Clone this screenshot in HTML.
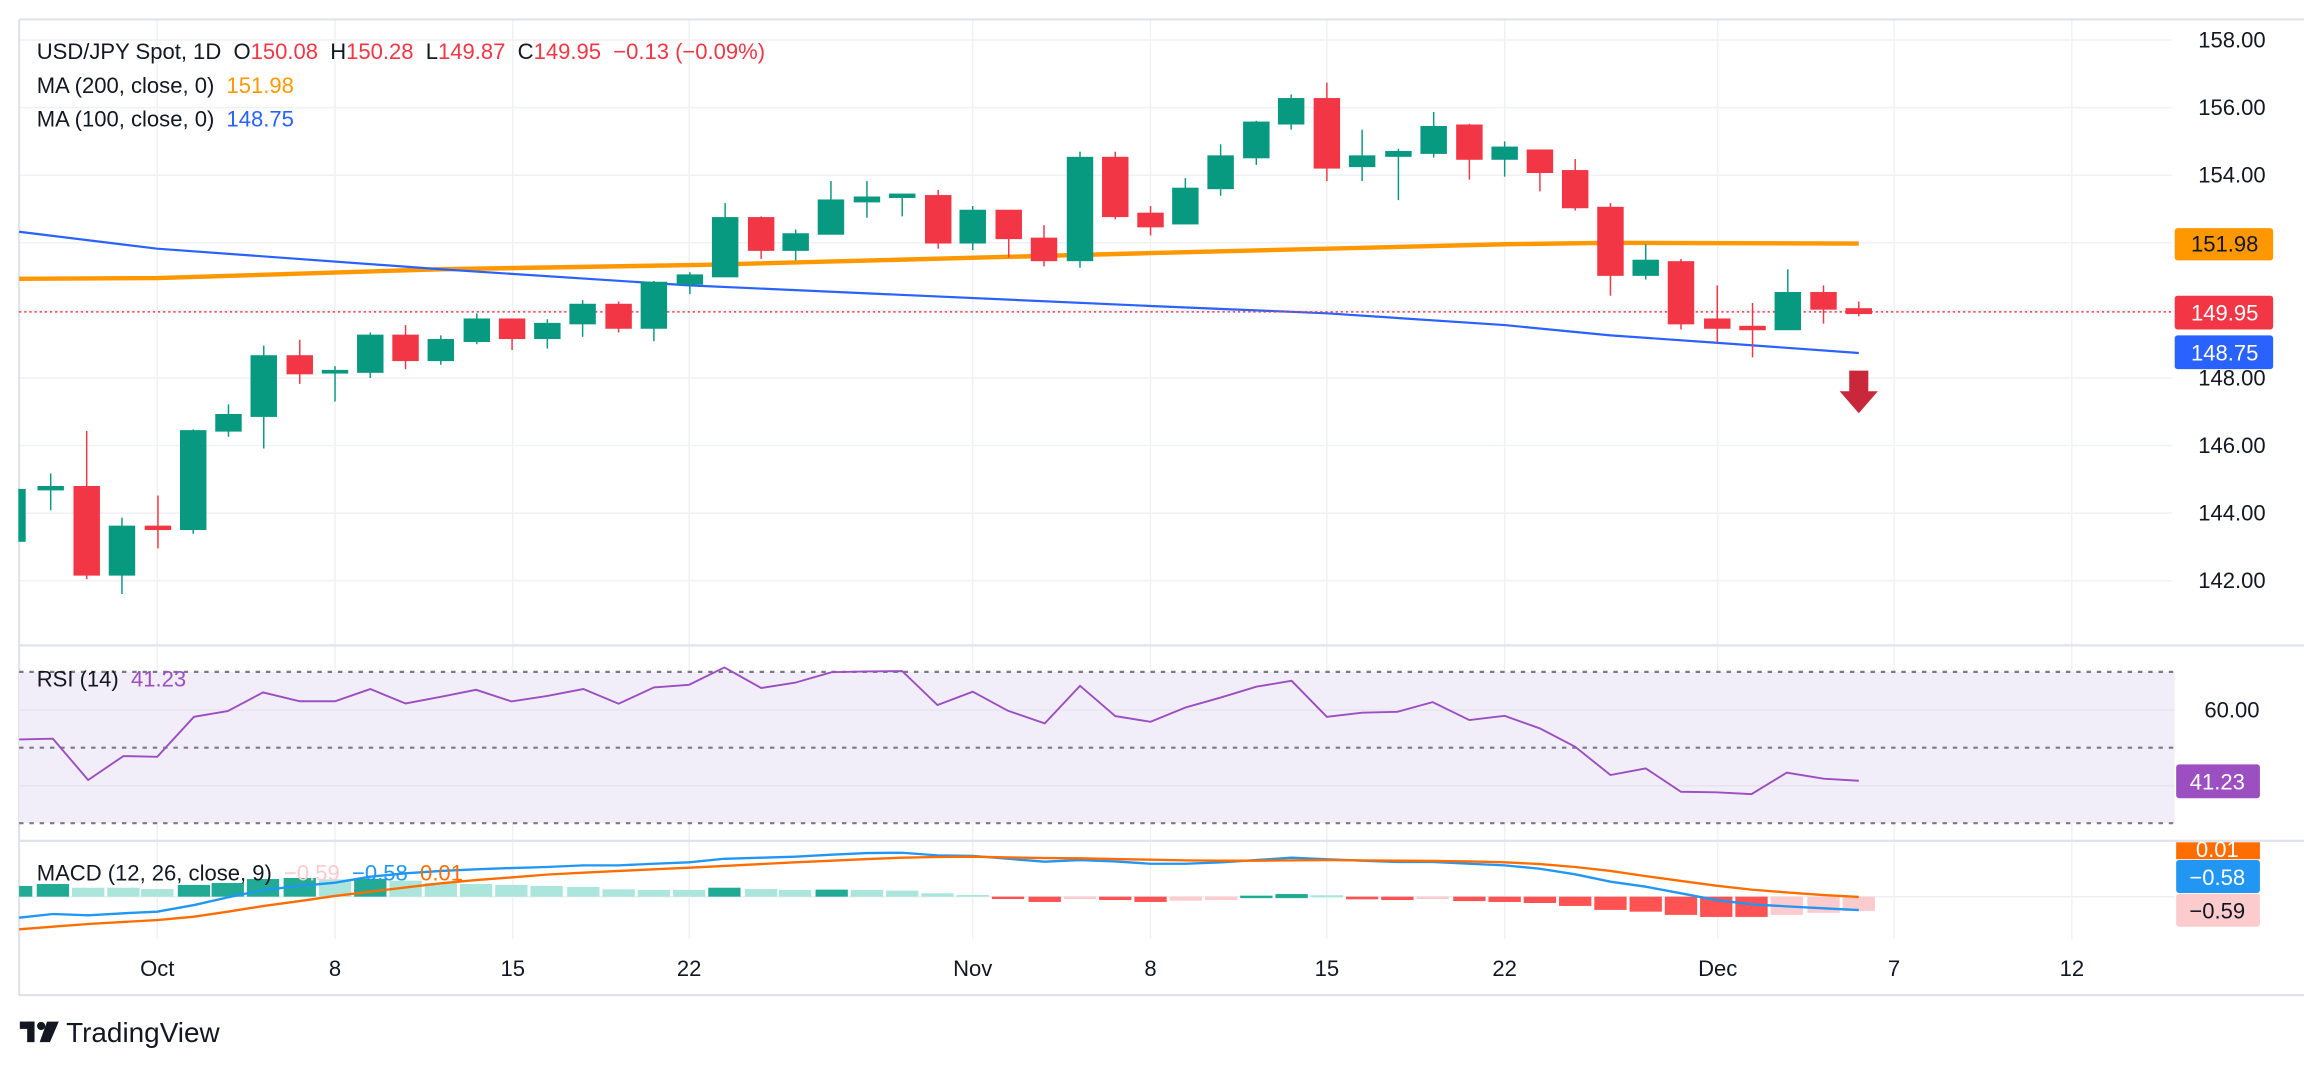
<!DOCTYPE html>
<html><head><meta charset="utf-8"><style>
html,body{margin:0;padding:0;background:#fff;}
svg{display:block;}
text{font-family:"Liberation Sans",sans-serif;}
</style></head><body>
<svg width="2304" height="1066" viewBox="0 0 1568 725" xmlns="http://www.w3.org/2000/svg">
<rect width="1568" height="725" fill="#fff"/>
<g stroke="#f0f1f4" stroke-width="1">
<line x1="107" y1="13" x2="107" y2="639"/><line x1="228" y1="13" x2="228" y2="639"/><line x1="349" y1="13" x2="349" y2="639"/><line x1="469" y1="13" x2="469" y2="639"/><line x1="662" y1="13" x2="662" y2="639"/><line x1="783" y1="13" x2="783" y2="639"/><line x1="903" y1="13" x2="903" y2="639"/><line x1="1024" y1="13" x2="1024" y2="639"/><line x1="1169" y1="13" x2="1169" y2="639"/><line x1="1289" y1="13" x2="1289" y2="639"/><line x1="1410" y1="13" x2="1410" y2="639"/>
<line x1="13" y1="27" x2="1478" y2="27"/><line x1="13" y1="73" x2="1478" y2="73"/><line x1="13" y1="119" x2="1478" y2="119"/><line x1="13" y1="165" x2="1478" y2="165"/><line x1="13" y1="211" x2="1478" y2="211"/><line x1="13" y1="257" x2="1478" y2="257"/><line x1="13" y1="303" x2="1478" y2="303"/><line x1="13" y1="349" x2="1478" y2="349"/><line x1="13" y1="395" x2="1478" y2="395"/>
</g>
<g stroke="#e0e3eb" stroke-width="1.5" fill="none">
<line x1="13" y1="13" x2="1568" y2="13"/><line x1="13" y1="13" x2="13" y2="677"/>
<line x1="13" y1="439" x2="1568" y2="439"/><line x1="13" y1="572" x2="1568" y2="572"/>
<line x1="13" y1="677" x2="1568" y2="677"/>
</g>
<polyline fill="none" stroke="#ff9800" stroke-width="3" points="13,189.5 107,189 300,183 480,180 783,172 903,169 1024,166 1096,165 1265,165.5"/>
<polyline fill="none" stroke="#2962ff" stroke-width="1.5" points="13,157.5 107,169 300,183 469,194 783,208 903,213 1024,221 1096,228 1168,233 1265,240"/>
<line x1="13" y1="212" x2="1478" y2="212" stroke="#f23645" stroke-width="1" stroke-dasharray="1.5,2"/>
<g stroke-width="1">
<g fill="#089981" stroke="#089981">
<rect x="13" y="333" width="4" height="35"/>
<line x1="34.5" y1="322" x2="34.5" y2="347"/><rect x="26" y="331" width="17" height="2"/>
<line x1="83" y1="352" x2="83" y2="404"/><rect x="74.5" y="358" width="17" height="33"/>
<line x1="131.5" y1="292" x2="131.5" y2="363"/><rect x="123" y="293" width="17" height="67"/>
<line x1="155.5" y1="275" x2="155.5" y2="297"/><rect x="147" y="282" width="17" height="11"/>
<line x1="179.5" y1="235" x2="179.5" y2="305"/><rect x="171" y="242" width="17" height="41"/>
<line x1="228" y1="249" x2="228" y2="273"/><rect x="219.5" y="252" width="17" height="1.5"/>
<line x1="252" y1="226" x2="252" y2="257"/><rect x="243.5" y="228" width="17" height="25"/>
<line x1="300" y1="228" x2="300" y2="248"/><rect x="291.5" y="231" width="17" height="14"/>
<line x1="324.5" y1="213" x2="324.5" y2="234"/><rect x="316" y="217" width="17" height="15"/>
<line x1="372.5" y1="217" x2="372.5" y2="237"/><rect x="364" y="220" width="17" height="10"/>
<line x1="396.5" y1="204" x2="396.5" y2="229"/><rect x="388" y="207" width="17" height="13"/>
<line x1="445" y1="191" x2="445" y2="232"/><rect x="436.5" y="192" width="17" height="31"/>
<line x1="469.5" y1="185" x2="469.5" y2="200"/><rect x="461" y="187" width="17" height="6"/>
<line x1="493.5" y1="138" x2="493.5" y2="188"/><rect x="485" y="148" width="17" height="40"/>
<line x1="541.5" y1="156" x2="541.5" y2="177"/><rect x="533" y="159" width="17" height="11"/>
<line x1="565.5" y1="123" x2="565.5" y2="159"/><rect x="557" y="136" width="17" height="23"/>
<line x1="590" y1="123" x2="590" y2="148"/><rect x="581.5" y="134" width="17" height="3"/>
<line x1="614" y1="132" x2="614" y2="147"/><rect x="605.5" y="132" width="17" height="2"/>
<line x1="662" y1="140" x2="662" y2="170"/><rect x="653.5" y="143" width="17" height="22"/>
<line x1="735" y1="103" x2="735" y2="182"/><rect x="726.5" y="107" width="17" height="70"/>
<line x1="806.7" y1="121" x2="806.7" y2="152"/><rect x="798.2" y="128" width="17" height="24"/>
<line x1="830.7" y1="98" x2="830.7" y2="133"/><rect x="822.2" y="106" width="17" height="22"/>
<line x1="855" y1="82" x2="855" y2="112"/><rect x="846.5" y="83" width="17" height="24"/>
<line x1="878.7" y1="64" x2="878.7" y2="88"/><rect x="870.2" y="67" width="17" height="17"/>
<line x1="927" y1="88" x2="927" y2="123"/><rect x="918.5" y="106" width="17" height="7"/>
<line x1="951.7" y1="101" x2="951.7" y2="136"/><rect x="943.2" y="103" width="17" height="3"/>
<line x1="975.7" y1="76" x2="975.7" y2="107"/><rect x="967.2" y="86" width="17" height="18"/>
<line x1="1024" y1="96" x2="1024" y2="120"/><rect x="1015.5" y="100" width="17" height="8"/>
<line x1="1120" y1="166" x2="1120" y2="190"/><rect x="1111.5" y="177" width="17" height="10"/>
<line x1="1216.7" y1="183" x2="1216.7" y2="224"/><rect x="1208.2" y="199" width="17" height="25"/>
</g>
<g fill="#f23645" stroke="#f23645">
<line x1="59" y1="293" x2="59" y2="394"/><rect x="50.5" y="331" width="17" height="60"/>
<line x1="107.5" y1="337" x2="107.5" y2="373"/><rect x="99" y="358" width="17" height="2"/>
<line x1="204" y1="231" x2="204" y2="261"/><rect x="195.5" y="242" width="17" height="12"/>
<line x1="276" y1="221" x2="276" y2="251"/><rect x="267.5" y="228" width="17" height="17"/>
<line x1="348.5" y1="217" x2="348.5" y2="238"/><rect x="340" y="217" width="17" height="13"/>
<line x1="421" y1="205" x2="421" y2="226"/><rect x="412.5" y="207" width="17" height="16"/>
<line x1="518" y1="147" x2="518" y2="176"/><rect x="509.5" y="148" width="17" height="22"/>
<line x1="638.5" y1="129" x2="638.5" y2="169"/><rect x="630" y="133" width="17" height="32"/>
<line x1="686.5" y1="143" x2="686.5" y2="175"/><rect x="678" y="143" width="17" height="19"/>
<line x1="710.5" y1="153" x2="710.5" y2="181"/><rect x="702" y="162" width="17" height="15"/>
<line x1="759" y1="103" x2="759" y2="149"/><rect x="750.5" y="107" width="17" height="40"/>
<line x1="783" y1="140" x2="783" y2="160"/><rect x="774.5" y="145" width="17" height="9"/>
<line x1="903" y1="56" x2="903" y2="123"/><rect x="894.5" y="67" width="17" height="47"/>
<line x1="1000" y1="84" x2="1000" y2="122"/><rect x="991.5" y="85" width="17" height="23"/>
<line x1="1048" y1="102" x2="1048" y2="130"/><rect x="1039.5" y="102" width="17" height="15"/>
<line x1="1072" y1="108" x2="1072" y2="143"/><rect x="1063.5" y="116" width="17" height="25"/>
<line x1="1096" y1="138" x2="1096" y2="201"/><rect x="1087.5" y="141" width="17" height="46"/>
<line x1="1144" y1="176" x2="1144" y2="224"/><rect x="1135.5" y="178" width="17" height="42"/>
<line x1="1168.7" y1="194" x2="1168.7" y2="233"/><rect x="1160.2" y="217" width="17" height="6"/>
<line x1="1192.7" y1="206" x2="1192.7" y2="243"/><rect x="1184.2" y="222" width="17" height="2"/>
<line x1="1241" y1="194" x2="1241" y2="220"/><rect x="1232.5" y="199" width="17" height="11"/>
<line x1="1265" y1="205" x2="1265" y2="215"/><rect x="1256.5" y="210" width="17" height="3"/>
</g>
</g>
<rect x="1258.5" y="252" width="13" height="15" fill="#c9283a"/>
<polygon points="1252,266 1278,266 1265,281" fill="#c9283a"/>
<text x="25" y="40" font-size="15" fill="#131722">USD/JPY Spot, 1D&#160;&#160;O<tspan fill="#f23645">150.08</tspan>&#160;&#160;H<tspan fill="#f23645">150.28</tspan>&#160;&#160;L<tspan fill="#f23645">149.87</tspan>&#160;&#160;C<tspan fill="#f23645">149.95&#160;&#160;−0.13 (−0.09%)</tspan></text>
<text x="25" y="63" font-size="15" fill="#131722">MA (200, close, 0)&#160;&#160;<tspan fill="#ff9800">151.98</tspan></text>
<text x="25" y="86" font-size="15" fill="#131722">MA (100, close, 0)&#160;&#160;<tspan fill="#2962ff">148.75</tspan></text>
<g font-size="15" fill="#131722" text-anchor="middle">
<text x="1519" y="32">158.00</text><text x="1519" y="78">156.00</text><text x="1519" y="124">154.00</text><text x="1519" y="262">148.00</text><text x="1519" y="308">146.00</text><text x="1519" y="354">144.00</text><text x="1519" y="400">142.00</text>
</g>
<rect x="1480" y="155" width="67" height="22" rx="2" fill="#ff9800"/><text x="1514" y="171" font-size="15" text-anchor="middle" fill="#131722">151.98</text>
<rect x="1480" y="201" width="67" height="23" rx="2" fill="#f23645"/><text x="1514" y="218" font-size="15" text-anchor="middle" fill="#fff">149.95</text>
<rect x="1480" y="228" width="67" height="23" rx="2" fill="#2962ff"/><text x="1514" y="245" font-size="15" text-anchor="middle" fill="#fff">148.75</text>
<rect x="13" y="457" width="1467" height="103" fill="#f2eef9"/>
<g stroke="#787b86" stroke-width="1.5" stroke-dasharray="3,4">
<line x1="13" y1="457" x2="1480" y2="457"/><line x1="13" y1="508.6" x2="1480" y2="508.6"/><line x1="13" y1="560" x2="1480" y2="560"/>
</g>
<line x1="13" y1="483" x2="1480" y2="483" stroke="#e6e3ee"/><line x1="13" y1="534.5" x2="1480" y2="534.5" stroke="#e6e3ee"/>
<polyline fill="none" stroke="#9c4fc1" stroke-width="1.3" points="13,503 36,502.5 60,530.6 84,514.3 107,514.8 132,487.6 155,483.7 179,471 204,477 228,477 252,468.7 276,478.5 300,474 324,469.2 348,477.1 372,473.5 397,468.7 421,478.7 445,467.6 469,465.8 493,454 518,468 541,464.4 566,457.2 590,456.7 614,456.5 638,479.6 662,470.5 686,483.5 711,492.1 735,466.5 759,487.1 783,491 807,481.2 831,474.4 855,467.1 879,463.1 903,487.6 927,484.8 951,484.2 975,477.6 1000,489.8 1024,486.9 1048,495.5 1072,508 1096,527.2 1120,522.7 1144,538.6 1168,539 1192,540.2 1216,525.6 1241,529.7 1265,531.1"/>
<text x="25" y="467" font-size="15" fill="#131722">RSI (14)&#160;&#160;<tspan fill="#9c4fc1">41.23</tspan></text>
<text x="1519" y="488" font-size="15" text-anchor="middle" fill="#131722">60.00</text>
<rect x="1481" y="520" width="57" height="23" rx="2" fill="#9c4fc1"/><text x="1509" y="537" font-size="15" text-anchor="middle" fill="#fff">41.23</text>
<line x1="13" y1="610" x2="1480" y2="610" stroke="#eceef2"/>
<g>
<rect x="13" y="602.7" width="9" height="7.3" fill="#22ab94"/>
<rect x="25" y="601.4" width="22" height="8.6" fill="#22ab94"/>
<rect x="49" y="603.9" width="22" height="6.1" fill="#ace5dc"/>
<rect x="73" y="603.9" width="22" height="6.1" fill="#ace5dc"/>
<rect x="96" y="604.8" width="22" height="5.2" fill="#ace5dc"/>
<rect x="121" y="602" width="22" height="8" fill="#22ab94"/>
<rect x="144" y="600.7" width="22" height="9.3" fill="#22ab94"/>
<rect x="168" y="598" width="22" height="12" fill="#22ab94"/>
<rect x="193" y="597.3" width="22" height="12.7" fill="#22ab94"/>
<rect x="217" y="598.2" width="22" height="11.8" fill="#ace5dc"/>
<rect x="241" y="597.8" width="22" height="12.2" fill="#22ab94"/>
<rect x="265" y="599.1" width="22" height="10.9" fill="#ace5dc"/>
<rect x="289" y="600.5" width="22" height="9.5" fill="#ace5dc"/>
<rect x="313" y="601.4" width="22" height="8.6" fill="#ace5dc"/>
<rect x="337" y="602" width="22" height="8" fill="#ace5dc"/>
<rect x="361" y="602.7" width="22" height="7.3" fill="#ace5dc"/>
<rect x="386" y="603.4" width="22" height="6.6" fill="#ace5dc"/>
<rect x="410" y="605" width="22" height="5" fill="#ace5dc"/>
<rect x="434" y="605.4" width="22" height="4.6" fill="#ace5dc"/>
<rect x="458" y="605.4" width="22" height="4.6" fill="#ace5dc"/>
<rect x="482" y="603.9" width="22" height="6.1" fill="#22ab94"/>
<rect x="507" y="604.8" width="22" height="5.2" fill="#ace5dc"/>
<rect x="530" y="605.4" width="22" height="4.6" fill="#ace5dc"/>
<rect x="555" y="605.2" width="22" height="4.8" fill="#22ab94"/>
<rect x="579" y="605.4" width="22" height="4.6" fill="#ace5dc"/>
<rect x="603" y="605.9" width="22" height="4.1" fill="#ace5dc"/>
<rect x="627" y="607.7" width="22" height="2.3" fill="#ace5dc"/>
<rect x="651" y="608.8" width="22" height="1.2" fill="#ace5dc"/>
<rect x="675" y="610" width="22" height="1.6" fill="#ff5252"/>
<rect x="700" y="610" width="22" height="3.6" fill="#ff5252"/>
<rect x="724" y="610" width="22" height="1.6" fill="#fccbcd"/>
<rect x="748" y="610" width="22" height="2.3" fill="#ff5252"/>
<rect x="772" y="610" width="22" height="3.6" fill="#ff5252"/>
<rect x="796" y="610" width="22" height="2.7" fill="#fccbcd"/>
<rect x="820" y="610" width="22" height="2.3" fill="#fccbcd"/>
<rect x="844" y="609.3" width="22" height="1.7" fill="#22ab94"/>
<rect x="868" y="608.2" width="22" height="2.8" fill="#22ab94"/>
<rect x="892" y="609" width="22" height="1.5" fill="#ace5dc"/>
<rect x="916" y="610" width="22" height="1.8" fill="#ff5252"/>
<rect x="940" y="610" width="22" height="2.3" fill="#ff5252"/>
<rect x="964" y="610" width="22" height="1.6" fill="#fccbcd"/>
<rect x="989" y="610" width="22" height="3" fill="#ff5252"/>
<rect x="1013" y="610" width="22" height="3.6" fill="#ff5252"/>
<rect x="1037" y="610" width="22" height="4.3" fill="#ff5252"/>
<rect x="1061" y="610" width="22" height="6.3" fill="#ff5252"/>
<rect x="1085" y="610" width="22" height="9" fill="#ff5252"/>
<rect x="1109" y="610" width="22" height="10.2" fill="#ff5252"/>
<rect x="1133" y="610" width="22" height="12.4" fill="#ff5252"/>
<rect x="1157" y="610" width="22" height="13.8" fill="#ff5252"/>
<rect x="1181" y="610" width="22" height="13.8" fill="#ff5252"/>
<rect x="1205" y="610" width="22" height="12.4" fill="#fccbcd"/>
<rect x="1230" y="610" width="22" height="11" fill="#fccbcd"/>
<rect x="1254" y="610" width="22" height="9.7" fill="#fccbcd"/>
</g>
<polyline fill="none" stroke="#2196f3" stroke-width="1.6" points="13,624.3 36,621.8 60,622.7 84,621.3 107,620.2 132,615.7 155,610.5 179,605.5 204,602.7 228,600.5 252,596.4 276,594.1 300,592.5 324,591.4 348,590.5 372,589.8 397,588.7 421,588.7 445,587.6 469,586.6 493,584.2 518,583.5 541,582.8 566,581.4 590,580.3 614,580.1 638,581.9 662,582.3 686,584.2 711,586.2 735,585.1 759,586 783,587.6 807,587.6 831,586.6 855,585.1 879,583.5 903,584.6 927,585.5 951,586.4 975,586.4 1000,587.6 1024,588.7 1048,591 1072,594.8 1096,599.8 1120,603.2 1144,607.7 1168,612.3 1192,615.2 1216,616.6 1241,617.9 1265,619.1"/>
<polyline fill="none" stroke="#ff6d00" stroke-width="1.6" points="13,632.2 36,630.4 60,628.6 84,627.2 107,625.9 132,623.6 155,620.2 179,616.4 204,613 228,609.5 252,606.6 276,603.7 300,600.9 324,598.7 348,596.9 372,595.0 397,593.7 421,592.5 445,591.4 469,590.3 493,589.1 518,587.8 541,586.6 566,585.5 590,584.4 614,583.5 638,583 662,582.8 686,583.3 711,583.7 735,583.9 759,584.4 783,584.8 807,585.3 831,585.5 855,585.5 879,585.3 903,585.1 927,585.3 951,585.5 975,585.7 1000,586 1024,586.6 1048,587.8 1072,589.8 1096,592.5 1120,596 1144,599.3 1168,602.5 1192,605.2 1216,607.1 1241,608.9 1265,610.2"/>
<text x="25" y="599" font-size="15" fill="#131722">MACD (12, 26, close, 9)&#160;&#160;<tspan fill="#fccbcd">−0.59</tspan>&#160;&#160;<tspan fill="#2196f3">−0.58</tspan>&#160;&#160;<tspan fill="#ff6d00">0.01</tspan></text>
<rect x="1481" y="573" width="57" height="11.5" fill="#ff6d00"/><text x="1509" y="583" font-size="15" text-anchor="middle" fill="#fff">0.01</text>
<rect x="1481" y="585" width="57" height="22.5" rx="2" fill="#2196f3"/><text x="1509" y="602" font-size="15" text-anchor="middle" fill="#fff">−0.58</text>
<rect x="1481" y="608" width="57" height="22.5" rx="2" fill="#fccbcd"/><text x="1509" y="625" font-size="15" text-anchor="middle" fill="#131722">−0.59</text>
<g font-size="15" fill="#131722" text-anchor="middle">
<text x="107" y="664">Oct</text><text x="228" y="664">8</text><text x="349" y="664">15</text><text x="469" y="664">22</text><text x="662" y="664">Nov</text><text x="783" y="664">8</text><text x="903" y="664">15</text><text x="1024" y="664">22</text><text x="1169" y="664">Dec</text><text x="1289" y="664">7</text><text x="1410" y="664">12</text>
</g>
<g fill="#131722">
<rect x="13.5" y="695" width="10" height="5"/><rect x="18.5" y="695" width="5" height="14"/>
<circle cx="28" cy="698" r="2.8"/>
<polygon points="32,695 40,695 34,709 27,709"/>
</g>
<text x="45" y="709" font-size="19" fill="#131722">TradingView</text>
</svg>
</body></html>
